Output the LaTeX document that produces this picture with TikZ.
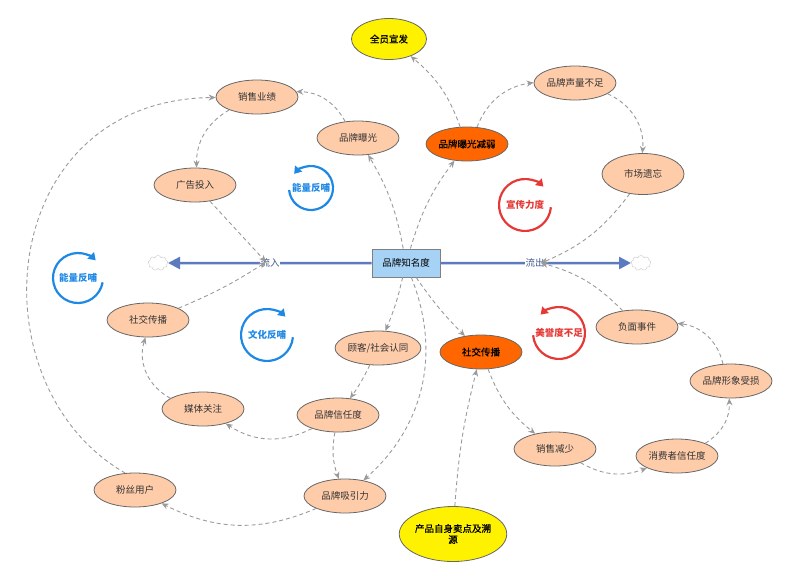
\documentclass[tikz,border=0pt]{standalone}
\usepackage{fontspec}
\setmainfont{Noto Sans CJK SC}
\newfontfamily\semibold{Noto Sans CJK SC}[FakeBold=0.9]
\usetikzlibrary{shapes.geometric, shapes.symbols, arrows.meta}
\definecolor{peach}{HTML}{FFCCAA}
\definecolor{hotorange}{HTML}{FF6600}
\definecolor{boxblue}{HTML}{A6D2F5}
\definecolor{flowblue}{HTML}{5B7BBE}
\definecolor{loopblue}{HTML}{1E88E5}
\definecolor{loopred}{HTML}{E53935}
\definecolor{linkgray}{HTML}{9A9A9A}

\begin{document}
\begin{tikzpicture}[x=1pt, y=1pt, font=\fontsize{9.5}{11}\selectfont,
    aux/.style={ellipse, draw=black!60, line width=0.8pt, fill=peach, text=black!80,
      minimum width=82pt, minimum height=34pt, inner sep=0pt},
    hot/.style={aux, fill=hotorange, text=black, font=\fontsize{9.5}{11}\selectfont\semibold},
    lever/.style={aux, fill=yellow, text=black, font=\fontsize{9.5}{11}\selectfont\semibold},
    stock/.style={rectangle, draw=black!50, line width=1pt, fill=boxblue,
      minimum width=68pt, minimum height=28pt},
    sky/.style={cloud, cloud puffs=9, draw=black!22, fill=white,
      minimum width=20pt, minimum height=15pt, inner sep=0pt},
    flow/.style={flowblue, line width=2.5pt, -{Triangle[length=12pt, width=12pt]}},
    valve/.style={fill=white, text=flowblue!75!black, inner sep=0.5pt},
    link/.style={linkgray, line width=0.9pt, dash pattern=on 4pt off 3pt,
      -{Stealth[length=7pt, width=6pt]}},
    loopb/.style={loopblue, line width=2.2pt, -{Triangle[length=7pt, width=9pt]}},
    loopr/.style={loopred, line width=2.2pt, -{Triangle[length=7pt, width=9pt]}},
    looptext/.style={font=\fontsize{9.5}{11}\selectfont\bfseries, inner sep=0pt}]

  \useasboundingbox (0,0) rectangle (800,-582);

  \foreach \n/\x/\y/\t in {sales/257/97/销售业绩, brandexp/358/138/品牌曝光,
      ads/195/185/广告投入, voice/575/83/品牌声量不足, socialL/148/320/社交传播,
      media/203/409/媒体关注, fans/135/490/粉丝用户, trust/338/415/品牌信任度,
      attract/345/496/品牌吸引力, identity/378/348/{顾客/社会认同},
      negevent/637/327/负面事件, image/731/381/品牌形象受损,
      salesdown/555/449/销售减少, ctrust/677/456/消费者信任度} {
    \node[aux] (\n) at (\x,-\y) {\t};
  }
  \node[aux, minimum height=41pt] (forget) at (643,-174) {市场遗忘};
  \node[hot] (expdown) at (467,-144) {品牌曝光减弱};
  \node[hot] (socialO) at (481,-352) {社交传播};
  \node[lever, minimum width=75pt, minimum height=41pt] (allhands) at (389,-39) {全员宣发};
  \node[lever, minimum width=81pt, minimum height=55pt, align=center] (product) at (453,-534)
    {产品自身卖点及溯\\源};

  \node[stock] (awareness) at (406,-263) {品牌知名度};
  \node[sky] (skyL) at (158,-263) {};
  \node[sky] (skyR) at (641,-263) {};
  \draw[flow] (awareness.west) -- (skyL.east);
  \draw[flow] (awareness.east) -- (skyR.west);
  \node[valve] (inflow) at (270,-263) {流入};
  \node[valve] (outflow) at (535,-263) {流出};
  \coordinate (cin) at (266,-262);
  \coordinate (cout) at (541,-263);

  \foreach \a/\b/\ang in {brandexp/sales/-30, sales/ads/-30, ads/cin/0, socialL/cin/-5,
      media/socialL/40, trust/media/30, trust/attract/-15, attract/fans/25,
      identity/trust/5, awareness/identity/5, awareness/socialO/-5,
      awareness/attract/35, awareness/brandexp/-10, awareness/expdown/10,
      expdown/allhands/-15, expdown/voice/30, voice/forget/35, forget/cout/15,
      negevent/cout/-15, image/negevent/-35, ctrust/image/-30,
      salesdown/ctrust/-25, socialO/salesdown/-15, product/socialO/5} {
    \draw[link] (\a) to[bend left=\ang] (\b);
  }
  \draw[link] (fans.120) .. controls (-28,-385) and (-5,-100) .. (sales);

  \node[looptext, text=loopblue] (loopA) at (311,-188) {能量反哺};
  \node[looptext, text=loopblue] (loopB) at (78,-278) {能量反哺};
  \node[looptext, text=loopblue] (loopC) at (267,-335) {文化反哺};
  \node[looptext, text=loopred] (loopD) at (525,-205) {宣传力度};
  \node[looptext, text=loopred] (loopE) at (559,-333) {美誉度不足};
  \draw[loopb] (loopA) ++(185:22) arc[start angle=185, end angle=500, radius=22];
  \draw[loopb] (loopB) ++(-10:25) arc[start angle=-10, end angle=-315, radius=25];
  \draw[loopb] (loopC) ++(-5:26) arc[start angle=-5, end angle=-315, radius=26];
  \draw[loopr] (loopD) ++(-5:26) arc[start angle=-5, end angle=-315, radius=26];
  \draw[loopr] (loopE) ++(185:26) arc[start angle=185, end angle=495, radius=26];
\end{tikzpicture}
\end{document}
